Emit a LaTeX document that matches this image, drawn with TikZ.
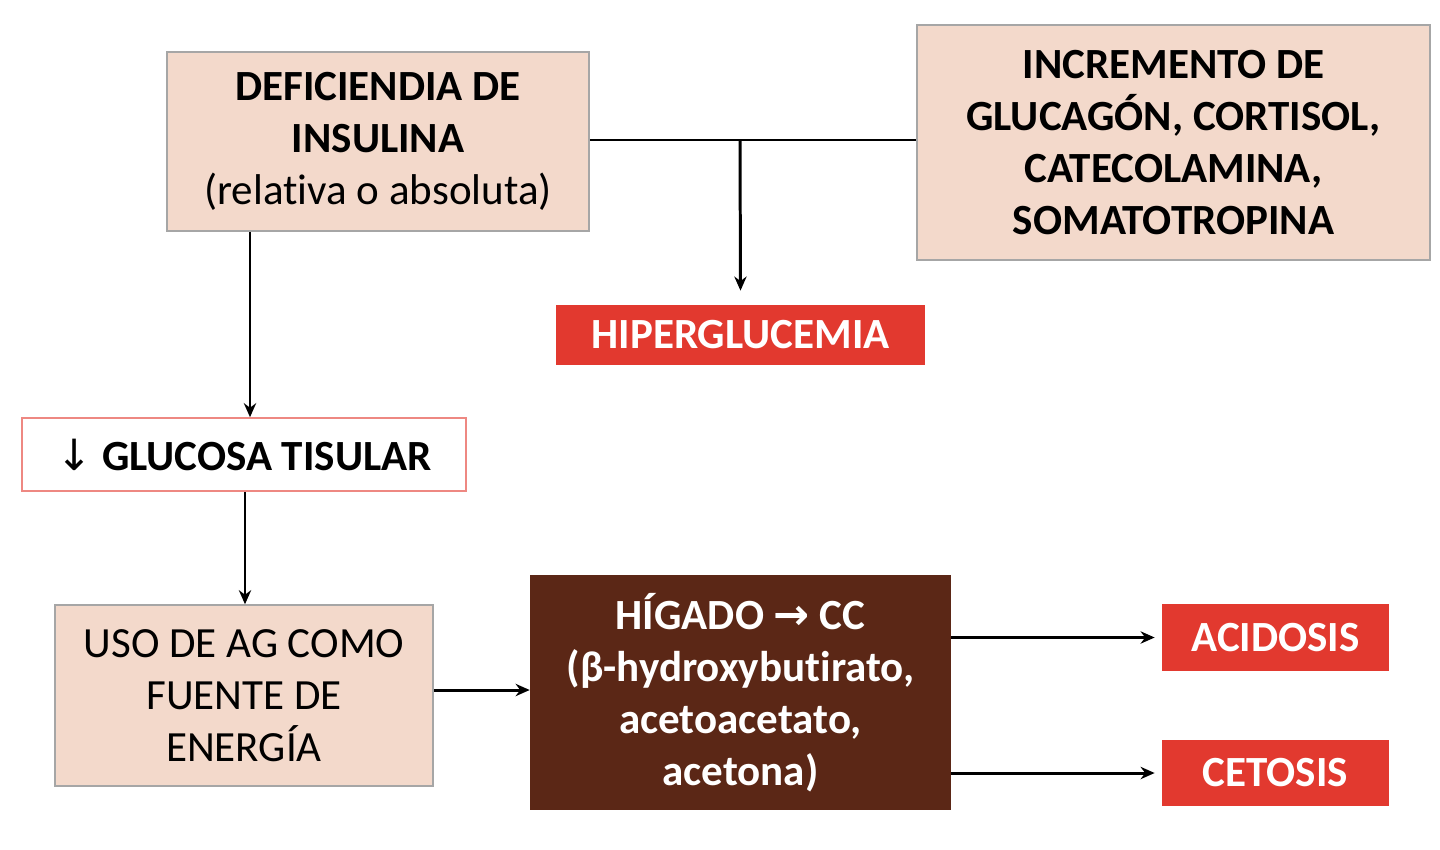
\documentclass[tikz,border=0pt]{standalone}
\usepackage{fontspec}
\setmainfont{Carlito}[Ligatures=NoCommon]
\newfontfamily\dejavu{DejaVu Sans}
\usetikzlibrary{arrows.meta}
\definecolor{peach}{HTML}{F3D9CB}
\definecolor{redb}{HTML}{E2392F}
\definecolor{brownb}{HTML}{5B2716}
\begin{document}
\begin{tikzpicture}[x=0.02cm,y=-0.02cm,
  box/.style={draw=gray!70,line width=0.9pt,fill=peach,align=center,inner sep=0pt,font=\fontsize{24.5}{29.5}\selectfont},
  red/.style={fill=redb,text=white,align=center,inner sep=0pt,font=\fontsize{24.5}{29.5}\selectfont\bfseries},
  arr/.style={-{Stealth[length=8pt,width=7pt]},line width=1.7pt}]
\useasboundingbox (0,0) rectangle (1440,849);
\node[box,font=\fontsize{24.5}{29.5}\selectfont\bfseries,minimum width=8.44cm,minimum height=3.58cm] (def) at (378,141.5) {DEFICIENDIA DE\\INSULINA\\\mdseries(relativa o absoluta)};
\node[box,font=\fontsize{24.5}{29.5}\selectfont\bfseries,minimum width=10.26cm,minimum height=4.7cm] (inc) at (1173.5,142.5) {INCREMENTO DE\\GLUCAGÓN, CORTISOL,\\CATECOLAMINA,\\SOMATOTROPINA};
\node[red,minimum width=7.38cm,minimum height=1.2cm] (hip) at (740.5,335) {HIPERGLUCEMIA};
\node[box,fill=white,draw=redb!60,minimum width=8.88cm,minimum height=1.46cm,font=\fontsize{24.5}{29.5}\selectfont\bfseries] (glu) at (244,454.5) {{\dejavu\mdseries↓}\ GLUCOSA TISULAR};
\node[box,minimum width=7.56cm,minimum height=3.62cm] (uso) at (244,695.5) {USO DE AG COMO\\FUENTE DE\\ENERGÍA};
\node[red,fill=brownb,minimum width=8.42cm,minimum height=4.7cm] (hig) at (740.5,692.5) {HÍGADO {\dejavu\bfseries →} CC\\(β-hydroxybutirato,\\acetoacetato,\\acetona)};
\node[red,minimum width=4.54cm,minimum height=1.34cm] (aci) at (1275.5,637.5) {ACIDOSIS};
\node[red,minimum width=4.54cm,minimum height=1.32cm] (cet) at (1275.5,773) {CETOSIS};
\coordinate (j) at (740,140);
\draw[line width=1.7pt] (def.east|-j) -- (inc.west|-j);
\draw[arr] (j) -- ([yshift=8]hip.north);
\draw[arr] (def.south-|250,0) -- (glu.north-|250,0);
\draw[arr] (glu.south-|245,0) -- (uso.north-|245,0);
\draw[arr] (uso.east|-0,690) -- (hig.west|-0,690);
\draw[arr] (hig.east|-aci) -- ([xshift=-4]aci.west);
\draw[arr] (hig.east|-cet) -- ([xshift=-4]cet.west);
\end{tikzpicture}
\end{document}
